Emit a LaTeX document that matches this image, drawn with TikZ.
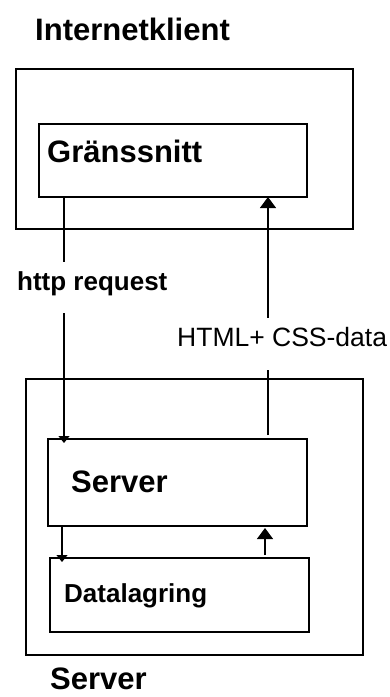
\documentclass[tikz,border=0pt]{standalone}
\usepackage{fontspec}
\setmainfont{Liberation Sans}
\usetikzlibrary{arrows.meta,calc}
\tikzset{
  box/.style={draw=black,line width=1.2pt,rectangle,inner sep=0pt,outer sep=0pt,anchor=north west},
  big/.style={font=\fontsize{31}{36}\selectfont\bfseries,inner sep=0pt,anchor=base west},
  mid/.style={font=\fontsize{26}{30}\selectfont\bfseries,inner sep=0pt,anchor=base west},
  link/.style={draw=black,line width=1.2pt},
  tipup/.style={-{Triangle[width=16pt,length=11pt]}},
  tipdown/.style={-{Triangle[width=11pt,length=7pt]},shorten >=-4pt}
}
\begin{document}
\begin{tikzpicture}[x=1pt,y=-1pt]
   \useasboundingbox (0,0) rectangle (390,697);
   % client side
   \node[big] (klient) at (35,40) {Internetklient};
   \node[box,minimum width=337pt,minimum height=160pt] (klientbox) at (16,69) {};
   \node[box,minimum width=268pt,minimum height=73pt] (grans) at (39,124) {};
   \node[big] (granstext) at (47,162) {Gränssnitt};
   % server side
   \node[box,minimum width=337pt,minimum height=276pt] (serverbox) at (26,379) {};
   \node[box,minimum width=259pt,minimum height=87pt] (srv) at (48,439) {};
   \node[big] (srvtext) at (71,492) {Server};
   \node[box,minimum width=259pt,minimum height=74pt] (data) at (50,558) {};
   \node[mid] (datatext) at (64,602) {Datalagring};
   \node[big] (servertitle) at (50,689) {Server};
   % request and response
   \coordinate (req) at ($(grans.south west)+(25,0)$);
   \coordinate (resp) at ($(grans.south west)+(229,0)$);
   \draw[link,tipdown] (req) -- (req |- srv.north);
   \draw[link,tipup,shorten <=4pt] (resp |- srv.north) -- (resp |- grans.south);
   \node[mid,fill=white,inner ysep=9pt,text depth=14pt] (reqtext) at (17,290) {http request};
   \node[font=\fontsize{26.5}{30}\selectfont,inner sep=0pt,anchor=base west,fill=white,inner ysep=9pt,text depth=15pt] (resptext) at (177,346) {HTML+ CSS-data};
   % storage
   \coordinate (store) at ($(srv.south west)+(14,0)$);
   \coordinate (fetch) at ($(data.north west)+(215,0)$);
   \draw[link,tipdown] (store) -- (store |- data.north);
   \draw[link,tipup,shorten <=3pt,shorten >=2pt] (fetch) -- (fetch |- srv.south);
\end{tikzpicture}
\end{document}
